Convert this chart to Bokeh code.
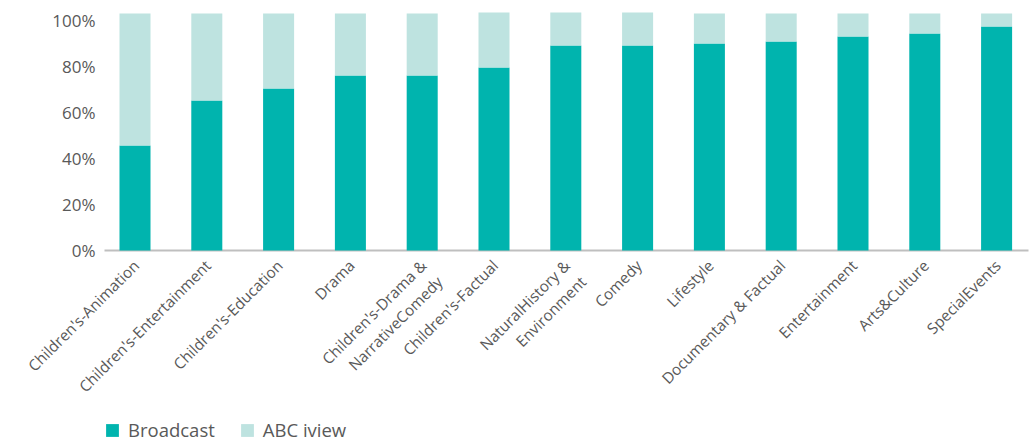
from bokeh.plotting import figure
from bokeh.models import ColumnDataSource, Range1d, Legend, LegendItem
from bokeh.core.properties import value
from bokeh.embed import file_html
from bokeh.resources import INLINE
import math

categories = ["Children's-Animation", "Children's-Entertainment", "Children's-Education", "Drama",
              "Children's-Drama &\nNarrativeComedy", "Children's-Factual", "NaturalHistory &\nEnvironment",
              "Comedy", "Lifestyle", "Documentary & Factual", "Entertainment", "Arts&Culture", "SpecialEvents"]
broadcast = [45.7, 65.2, 70.4, 76.1, 76.1, 79.6, 89.1, 89.1, 90.0, 90.9, 93.0, 94.3, 97.4]
abc_iview = [57.3, 37.8, 32.6, 26.9, 26.9, 23.9, 14.4, 14.4, 13.0, 12.1, 10.0, 8.7, 5.6]
y_ticks = [0, 20, 40, 60, 80, 100]
series = ["Broadcast", "ABC iview"]
colors = ["#00B4AE", "#BEE3E0"]
FONT = "Open Sans"
TXT = "#595959"

# layout scale (pixels per data unit)
PPX = 71.8
PPY = 2.3
X0 = -134.5 / PPX
X1 = X0 + 1033 / PPX
Y0 = -188 / PPY
Y1 = 250 / PPY

idx = list(range(len(categories)))
src = ColumnDataSource(dict(x=idx, cat=categories, Broadcast=broadcast, iview=abc_iview))

p = figure(x_range=Range1d(X0, X1), y_range=Range1d(Y0, Y1),
           frame_width=1033, frame_height=438, x_axis_location=None, y_axis_location=None,
           min_border=0, output_backend="svg", toolbar_location=None)
p.outline_line_color = None
p.grid.visible = False

# x axis baseline
p.segment(x0=[X0 + 104 / PPX], y0=[0], x1=[X0 + 1028 / PPX], y1=[0],
          line_color="#BFBFBF", line_width=2)

rs = p.vbar_stack(["Broadcast", "iview"], x="x", width=0.432, color=colors, source=src, line_color=None)

# y tick labels
p.text(x=[X0 + 95 / PPX] * len(y_ticks), y=y_ticks, text=[f"{t}%" for t in y_ticks],
       text_align="right", text_baseline="middle", text_font=value(FONT),
       text_font_size="17px", text_color=TXT)

# x category labels
p.text(x=[i - 6 / PPX for i in idx], y=[-5 / PPY] * len(idx), text=categories,
       angle=math.pi / 4, text_align="right", text_baseline="top", text_font=value(FONT),
       text_font_size="15.3px", text_color=TXT, text_line_height=1.15)

legend = Legend(items=[LegendItem(label=series[0], renderers=[rs[0]]),
                       LegendItem(label=series[1], renderers=[rs[1]])],
                orientation="horizontal", location=(104, -4))
legend.label_text_font = FONT
legend.label_text_font_size = "18.5px"
legend.label_text_color = TXT
legend.glyph_width = 16
legend.glyph_height = 16
legend.label_height = 16
legend.label_standoff = 8
legend.spacing = 24
legend.padding = 0
legend.margin = 0
legend.border_line_color = None
legend.background_fill_alpha = 0
p.add_layout(legend)

open("out.html", "w").write(file_html(p, INLINE))
